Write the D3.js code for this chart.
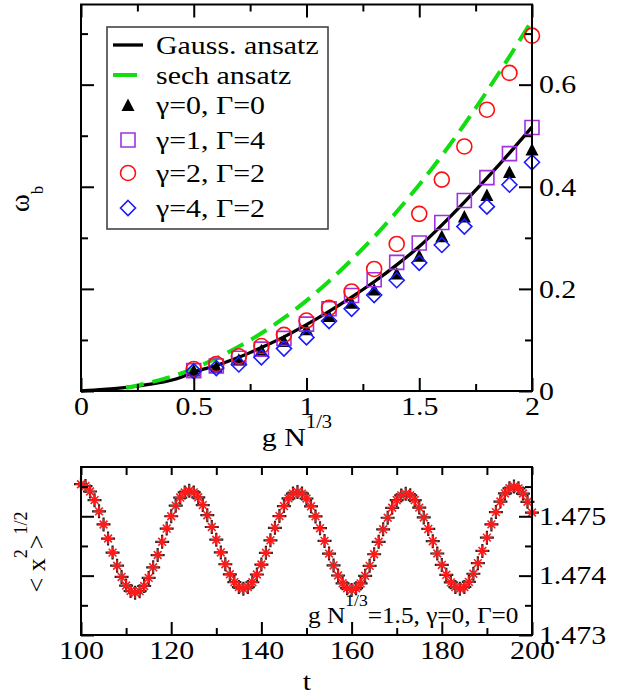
<!DOCTYPE html>
<html>
<head>
<meta charset="utf-8">
<script src="https://cdn.jsdelivr.net/npm/d3@7"></script>
<style>
body { margin: 0; background: #fff; }
svg { display: block; }
</style>
</head>
<body>
<script>
/// ---- values ----

/// top panel: omega_b against g N^(1/3)
var gN      = [0.5,0.6,0.7,0.8,0.9,1.0,1.1,1.2,1.3,1.4,1.5,1.6,1.7,1.8,1.9,2.0];
var tri     = [0.040,0.047,0.061,0.080,0.098,0.121,0.147,0.173,0.199,0.230,0.265,0.303,0.342,0.384,0.429,0.473]; /// γ=0, Γ=0
var sq      = [0.040,0.049,0.064,0.082,0.103,0.131,0.161,0.187,0.218,0.252,0.290,0.330,0.373,0.418,0.465,0.516]; /// γ=1, Γ=4
var circ    = [0.043,0.053,0.068,0.088,0.110,0.138,0.163,0.195,0.239,0.288,0.347,0.414,0.479,0.551,0.623,0.696]; /// γ=2, Γ=2
var diam    = [0.039,0.045,0.052,0.066,0.083,0.105,0.137,0.161,0.188,0.217,0.251,0.286,0.322,0.361,0.404,0.448]; /// γ=4, Γ=2

var gaussX  = [0,0.1,0.2,0.3,0.4,0.45,0.5,0.6,0.7,0.8,0.9,1.0,1.1,1.2,1.3,1.4,1.5,1.6,1.7,1.8,1.9,2.0];
var gaussY  = [0,0.003,0.007,0.013,0.021,0.028,0.037,0.050,0.066,0.085,0.106,0.130,0.156,0.184,0.214,0.247,0.283,0.325,0.370,0.417,0.466,0.517];
var sechX   = [0.2,0.3,0.4,0.5,0.6,0.7,0.8,0.9,1.0,1.1,1.2,1.3,1.4,1.5,1.6,1.7,1.8,1.9,2.0];
var sechY   = [0.006,0.016,0.028,0.044,0.064,0.087,0.113,0.143,0.177,0.215,0.257,0.302,0.351,0.404,0.461,0.522,0.587,0.655,0.726];

var legendNames = ["Gauss. ansatz","sech ansatz","γ=0, Γ=0","γ=1, Γ=4","γ=2, Γ=2","γ=4, Γ=2"];

/// bottom panel: <x^2>^(1/2) against t
var tVals = d3.range(100, 201);
var rms = [
 1.475540,1.475509,1.475417,1.475272,1.475083,1.474862,1.474625,1.474388,1.474167,1.473978,
 1.473833,1.473741,1.473710,1.473739,1.473825,1.473962,1.474140,1.474347,1.474570,1.474793,
 1.475000,1.475178,1.475315,1.475401,1.475430,1.475402,1.475319,1.475188,1.475018,1.474819,
 1.474605,1.474391,1.474192,1.474022,1.473891,1.473808,1.473780,1.473808,1.473889,1.474019,
 1.474187,1.474384,1.474595,1.474806,1.475003,1.475171,1.475301,1.475382,1.475410,1.475382,
 1.475299,1.475168,1.474998,1.474799,1.474585,1.474371,1.474172,1.474002,1.473871,1.473788,
 1.473760,1.473788,1.473869,1.473997,1.474165,1.474360,1.474570,1.474780,1.474975,1.475143,
 1.475271,1.475352,1.475380,1.475353,1.475273,1.475146,1.474980,1.474787,1.474580,1.474373,
 1.474180,1.474014,1.473887,1.473807,1.473780,1.473809,1.473895,1.474032,1.474210,1.474417,
 1.474640,1.474863,1.475070,1.475248,1.475385,1.475471,1.475500,1.475470,1.475383,1.475244,
 1.475063];

/// ticks
var topXTicks = [0,0.5,1,1.5,2],        topXLabels = ["0","0.5","1","1.5","2"];
var topXMinor = [0.25,0.75,1.25,1.75];
var topYTicks = [0,0.2,0.4,0.6],        topYLabels = ["0","0.2","0.4","0.6"];
var topYMinor = [0.1,0.3,0.5,0.7];
var botXTicks = [100,120,140,160,180,200], botXLabels = ["100","120","140","160","180","200"];
var botXMinor = [110,130,150,170,190];
var botYTicks = [1.473,1.474,1.475],    botYLabels = ["1.473","1.474","1.475"];
var botYMinor = [1.4735,1.4745,1.4755];

/// ---- drawing ----
var W = 629, H = 696;
var FONT = "'Liberation Serif', 'DejaVu Serif', serif";
var stretch = "scale(1.15,1)";   /// the glyphs in the figure are a bit wide

var svg = d3.select("body").append("svg")
    .attr("width", W).attr("height", H)
    .attr("font-family", FONT);

var L = 81, R = 532;
var x1 = d3.scaleLinear().domain([0, 2]).range([L, R]);
var y1 = d3.scaleLinear().domain([0, 0.757]).range([391, 4.5]);
var x2 = d3.scaleLinear().domain([100, 200]).range([L, R]);
var y2 = d3.scaleLinear().domain([1.473, 1.47583]).range([635, 467]);

function clean(sel) {
    sel.select(".domain").remove();
    sel.attr("font-size", 26).attr("font-family", FONT);
    sel.selectAll("line").attr("stroke-width", 2);
    sel.selectAll("text").attr("font-family", FONT).attr("fill", "#000").attr("transform", stretch);
}

/// inward ticks on all four sides, labels bottom and right
function axes(x, y, xt, xl, xm, yt, yl, ym, topMinor) {
    var yb = y.range()[0], yt0 = y.range()[1];
    var none = "";
    svg.append("g").attr("transform", "translate(0," + yb + ")")
        .call(d3.axisBottom(x).tickValues(xt).tickSize(-13).tickPadding(6).tickFormat((d, i) => xl[i])).call(clean);
    svg.append("g").attr("transform", "translate(0," + yb + ")")
        .call(d3.axisBottom(x).tickValues(xm).tickSize(-7).tickFormat(none)).call(clean);
    svg.append("g").attr("transform", "translate(0," + yt0 + ")")
        .call(d3.axisTop(x).tickValues(xt).tickSize(topMinor ? -8 : -13).tickFormat(none)).call(clean);
    svg.append("g").attr("transform", "translate(0," + yt0 + ")")
        .call(d3.axisTop(x).tickValues(xm).tickSize(topMinor ? -8 : -7).tickFormat(none)).call(clean);
    svg.append("g").attr("transform", "translate(" + L + ",0)")
        .call(d3.axisLeft(y).tickValues(yt).tickSize(-13).tickFormat(none)).call(clean);
    svg.append("g").attr("transform", "translate(" + L + ",0)")
        .call(d3.axisLeft(y).tickValues(ym).tickSize(-7).tickFormat(none)).call(clean);
    svg.append("g").attr("transform", "translate(" + R + ",0)")
        .call(d3.axisRight(y).tickValues(yt).tickSize(-13).tickPadding(6).tickFormat((d, i) => yl[i])).call(clean);
    svg.append("g").attr("transform", "translate(" + R + ",0)")
        .call(d3.axisRight(y).tickValues(ym).tickSize(-7).tickFormat(none)).call(clean);
    svg.append("rect")
        .attr("x", L).attr("y", yt0).attr("width", R - L).attr("height", yb - yt0)
        .attr("fill", "none").attr("stroke", "#000").attr("stroke-width", 2);
}

/// marker paths
function triPath(cx, cy) { return "M" + (cx - 6.5) + "," + (cy + 6) + "L" + (cx + 6.5) + "," + (cy + 6) + "L" + cx + "," + (cy - 6.5) + "Z"; }
function sqPath(cx, cy)  { return "M" + (cx - 7) + "," + (cy - 7) + "h14v14h-14Z"; }
function diaPath(cx, cy) { return "M" + cx + "," + (cy - 7.5) + "L" + (cx + 7.5) + "," + cy + "L" + cx + "," + (cy + 7.5) + "L" + (cx - 7.5) + "," + cy + "Z"; }

/// helper for a text placed by a group (so that the stretch does not move it)
function label(x, y, size, anchor, sx) {
    return svg.append("g").attr("transform", "translate(" + x + "," + y + ")")
        .append("text").attr("font-family", FONT).attr("font-size", size)
        .attr("text-anchor", anchor || "start").attr("transform", sx || stretch);
}

/// ---- top panel ----
var gtop = svg.append("g");
var line = d3.line().curve(d3.curveMonotoneX);

gtop.append("path")
    .attr("d", line(gaussX.map((d, i) => [x1(d), y1(gaussY[i])])))
    .attr("fill", "none").attr("stroke", "#000").attr("stroke-width", 3.3);
gtop.append("path")
    .attr("d", line(sechX.map((d, i) => [x1(d), y1(sechY[i])])))
    .attr("fill", "none").attr("stroke", "#11dd11").attr("stroke-width", 4)
    .attr("stroke-dasharray", "18,9");

gtop.selectAll("path.tri").data(tri).enter().append("path")
    .attr("d", (d, i) => triPath(x1(gN[i]), y1(d))).attr("fill", "#000");
gtop.selectAll("path.sq").data(sq).enter().append("path")
    .attr("d", (d, i) => sqPath(x1(gN[i]), y1(d)))
    .attr("fill", "none").attr("stroke", "#a030e0").attr("stroke-width", 1.6);
gtop.selectAll("circle").data(circ).enter().append("circle")
    .attr("cx", (d, i) => x1(gN[i])).attr("cy", d => y1(d)).attr("r", 7.5)
    .attr("fill", "none").attr("stroke", "#ff1010").attr("stroke-width", 1.6);
gtop.selectAll("path.dia").data(diam).enter().append("path")
    .attr("d", (d, i) => diaPath(x1(gN[i]), y1(d)))
    .attr("fill", "none").attr("stroke", "#1a1aff").attr("stroke-width", 1.6);

axes(x1, y1, topXTicks, topXLabels, topXMinor, topYTicks, topYLabels, topYMinor, false);

/// legend
var leg = svg.append("g");
leg.append("rect").attr("x", 107).attr("y", 27).attr("width", 221).attr("height", 202)
    .attr("fill", "#fff").attr("stroke", "#444").attr("stroke-width", 1.6);
var rowY = [45, 75, 105, 140, 173, 208];
legendNames.forEach(function (name, i) {
    var cy = rowY[i];
    if (i == 0) leg.append("line").attr("x1", 113).attr("x2", 143).attr("y1", cy).attr("y2", cy)
        .attr("stroke", "#000").attr("stroke-width", 3.3);
    if (i == 1) leg.append("line").attr("x1", 113).attr("x2", 137).attr("y1", cy).attr("y2", cy)
        .attr("stroke", "#11dd11").attr("stroke-width", 4);
    if (i == 2) leg.append("path").attr("d", triPath(128, cy)).attr("fill", "#000");
    if (i == 3) leg.append("path").attr("d", sqPath(128, cy)).attr("fill", "none").attr("stroke", "#a030e0").attr("stroke-width", 1.6);
    if (i == 4) leg.append("circle").attr("cx", 128).attr("cy", cy).attr("r", 7.5).attr("fill", "none").attr("stroke", "#ff1010").attr("stroke-width", 1.6);
    if (i == 5) leg.append("path").attr("d", diaPath(128, cy)).attr("fill", "none").attr("stroke", "#1a1aff").attr("stroke-width", 1.6);
    label(156, cy + 9, 26).text(name);
});

/// axis titles, top
var xt = label(297, 446, 26, "middle");
xt.append("tspan").text("g N");
xt.append("tspan").attr("font-size", 18).attr("dy", -18).text("1/3");

var yt = svg.append("text").attr("font-family", FONT).attr("font-size", 27)
    .attr("transform", "translate(29,212) rotate(-90)");
yt.append("tspan").text("ω");
yt.append("tspan").attr("font-size", 17).attr("dy", 14).text("b");

/// ---- bottom panel ----
var gbot = svg.append("g");
gbot.selectAll("path.plus").data(rms).enter().append("path")
    .attr("d", (d, i) => { var cx = x2(tVals[i]), cy = y2(d);
        return "M" + (cx - 7) + "," + cy + "h14M" + cx + "," + (cy - 7) + "v14"; })
    .attr("stroke", "#222").attr("stroke-width", 2.2).attr("fill", "none");
gbot.selectAll("path.star").data(rms).enter().append("path")
    .attr("d", (d, i) => { var cx = x2(tVals[i]), cy = y2(d), a = 5.5, b = 3.9;
        return "M" + (cx - a) + "," + cy + "h" + (2 * a) + "M" + cx + "," + (cy - a) + "v" + (2 * a) +
               "M" + (cx - b) + "," + (cy - b) + "l" + (2 * b) + "," + (2 * b) +
               "M" + (cx - b) + "," + (cy + b) + "l" + (2 * b) + "," + (-2 * b); })
    .attr("stroke", "#ff1a1a").attr("stroke-width", 1.6).attr("fill", "none");

axes(x2, y2, botXTicks, botXLabels, botXMinor, botYTicks, botYLabels, botYMinor, true);

/// annotation
var ann = label(308, 623, 23, "start", "scale(1.1,1)");
ann.append("tspan").text("g N");
ann.append("tspan").attr("font-size", 16).attr("dy", -17).text("1/3");
ann.append("tspan").attr("dy", 17).text("=1.5, γ=0, Γ=0");

/// axis titles, bottom
label(307, 690, 26, "middle").text("t");

var yb = svg.append("text").attr("font-family", FONT).attr("font-size", 26).attr("text-anchor", "middle")
    .attr("transform", "translate(45,552) rotate(-90)");
yb.append("tspan").text("< x");
yb.append("tspan").attr("font-size", 18).attr("dy", -18).text("2");
yb.append("tspan").attr("dy", 18).text(">");
yb.append("tspan").attr("font-size", 18).attr("dy", -18).text("1/2");
</script>
</body>
</html>
